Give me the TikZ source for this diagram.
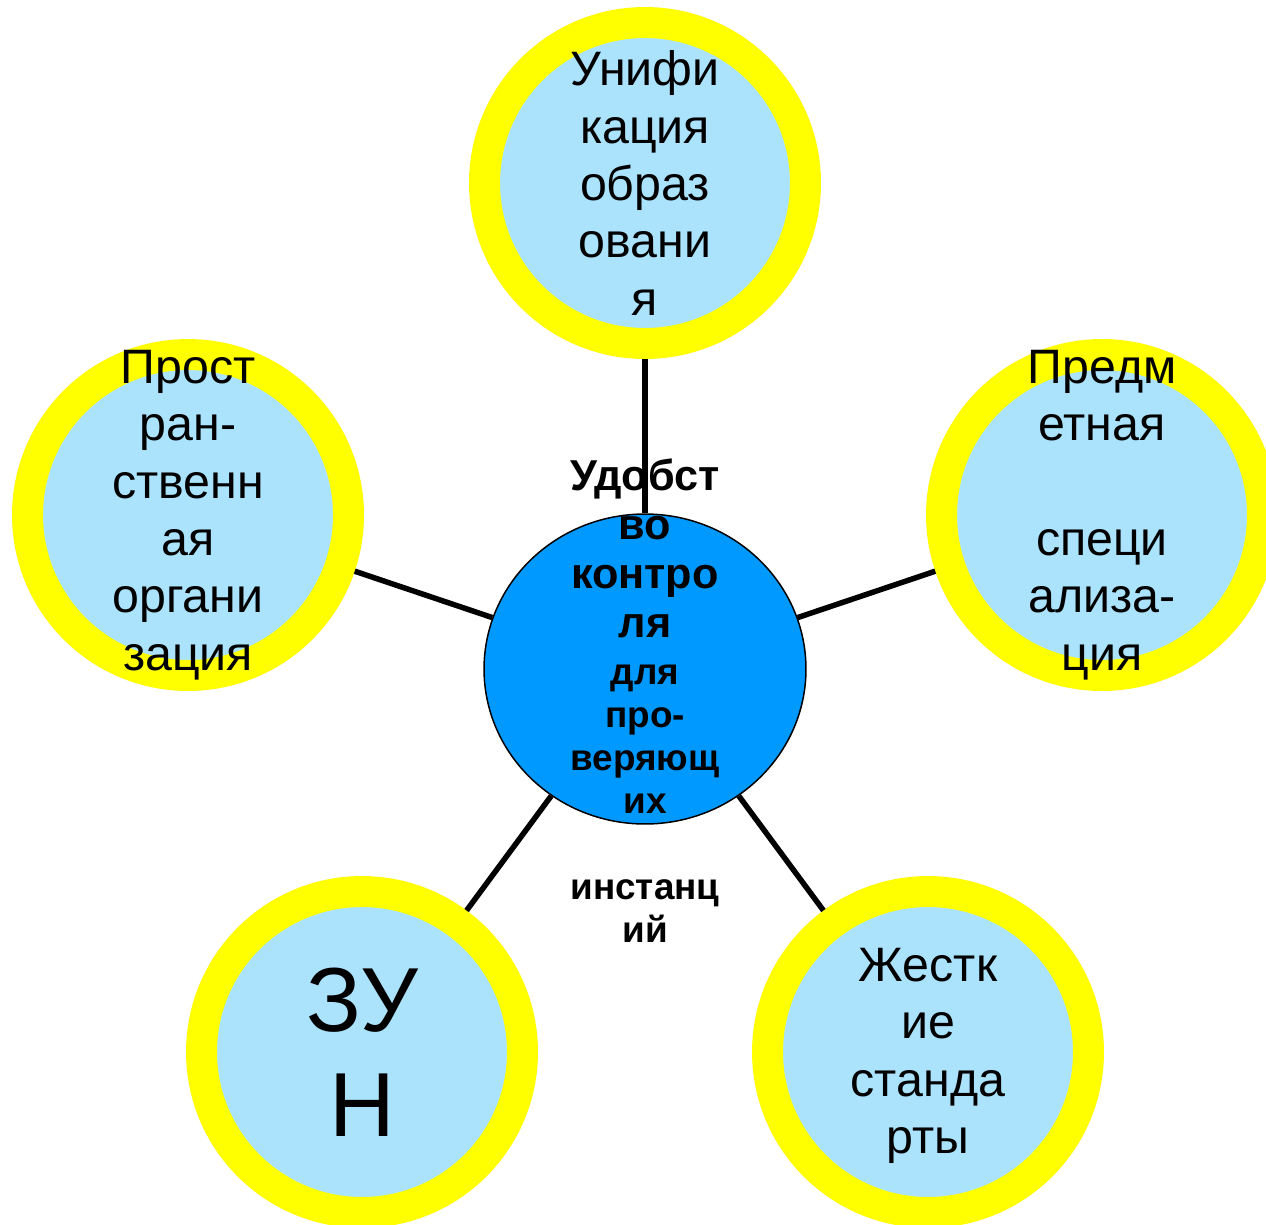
\documentclass[tikz,border=0pt]{standalone}
\usepackage{fontspec}
\setmainfont{Liberation Sans}
\usepackage{tikz}
\usetikzlibrary{shapes.geometric}
\definecolor{ringyellow}{RGB}{255,255,0}
\definecolor{discblue}{RGB}{171,226,252}
\definecolor{hubblue}{RGB}{0,153,255}

\begin{document}
\begin{tikzpicture}
  [x=0.02cm,y=-0.02cm,
   every node/.style={inner sep=0pt, align=center},
   ring/.style={circle, fill=discblue, draw=ringyellow, line width=0.62cm,
     minimum size=6.42cm},
   disctext/.style={font=\fontsize{27.5}{32.7}\selectfont},
   hub/.style={ellipse, fill=hubblue, draw=black, line width=0.03cm,
     minimum width=6.44cm, minimum height=6.2cm},
   link/.style={line width=0.11cm}]
  \useasboundingbox (0,0) rectangle (1266,1224);
  \node[hub] (hub) at (645,669) {};
  \node[ring] (unif)  at (645,183)  {};
  \node[ring] (prost) at (188,515)  {};
  \node[ring] (predm) at (1102,515) {};
  \node[ring] (zun)   at (362,1052) {};
  \node[ring] (zhest) at (928,1052) {};

  \node[disctext] (uniftext)  at (unif)  {Унифи\\кация\\образ\\овани\\я};
  \node[disctext] (prosttext) at (prost) {Прост\\ран-\\ственн\\ая\\органи\\зация};
  \node[disctext] (predmtext) at (predm) {Предм\\етная\\[32.7pt]специ\\ализа-\\ция};
  \node[font=\fontsize{51.8}{59.8}\selectfont] (zuntext) at (zun) {ЗУ\\Н};
  \node[disctext, yshift=-0.08cm] (zhesttext) at (zhest) {Жестк\\ие\\станда\\рты};
  \node[font=\bfseries\fontsize{24.6}{27.9}\selectfont] (hubtop) at (645,548) {Удобст\\во\\контро\\ля};
  \node[font=\bfseries\fontsize{21}{24.5}\selectfont] (hubbot) at (645,804) {для\\про-\\веряющ\\их\\[24.5pt]инстанц\\ий};

  \foreach \to in {unif,prost,predm,zun,zhest}
    \draw[link] (hub) -- (\to);

\end{tikzpicture}
\end{document}
